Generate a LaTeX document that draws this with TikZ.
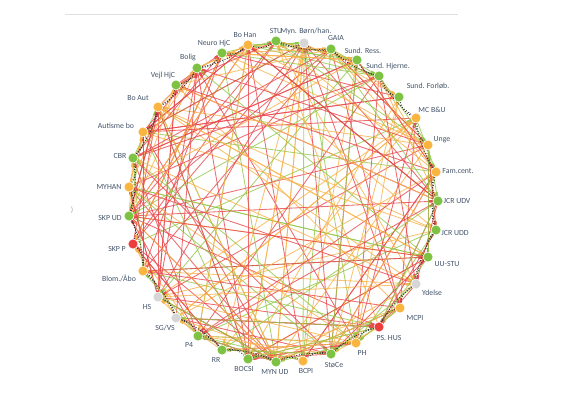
\documentclass[tikz,border=0pt]{standalone}
\usepackage{fontspec}
\setmainfont{Carlito}
\usetikzlibrary{backgrounds,calc}
\definecolor{dg}{HTML}{7DC242}
\definecolor{dor}{HTML}{F9B53F}
\definecolor{dre}{HTML}{EE3D3D}
\definecolor{dgr}{HTML}{D6D6D6}
\definecolor{eg}{HTML}{93C84A}
\definecolor{eor}{HTML}{F8B24A}
\definecolor{ere}{HTML}{E8474C}
\definecolor{labc}{HTML}{44546A}
\tikzset{
  dot/.style={circle,minimum size=10pt,inner sep=0pt,draw=white,line width=0.6pt},
  lab/.style={font=\fontsize{7.8}{8}\selectfont,text=labc,inner sep=0pt},
  chord/.style={line width=0.85pt,opacity=0.8},
  stub/.style={line width=2.4pt,opacity=0.9},
  rim/.style={draw=black!80,line width=0.8pt,dash pattern=on 1pt off 1.6pt},
}
\begin{document}
\begin{tikzpicture}[x=1pt,y=-1pt]
\useasboundingbox (0,0) rectangle (570,395);
\draw[gray!25,line width=1pt] (65,15) -- (458,15);
\node[lab,text=gray!70] (paren) at (72,210) {)};
% nodes
\node[dot,fill=dg]  (n1)  at (276,41) {};  \node[lab] (l1)  at (276,31) {STU};
\node[dot,fill=dgr] (n2)  at (304,43) {};  \node[lab] (l2)  at (306,31) {Myn. Børn/han.};
\node[dot,fill=dg]  (n3)  at (331,49) {};  \node[lab] (l3)  at (336,38) {GAIA};
\node[dot,fill=dg]  (n4)  at (357,60) {};  \node[lab] (l4)  at (363,51) {Sund. Ress.};
\node[dot,fill=dg]  (n5)  at (379,76) {};  \node[lab] (l5)  at (388,66) {Sund. Hjerne.};
\node[dot,fill=dg]  (n6)  at (399,97) {};  \node[lab] (l6)  at (428,86) {Sund. Forløb.};
\node[dot,fill=dor] (n7)  at (416,118) {}; \node[lab] (l7)  at (432,110) {MC B\&U};
\node[dot,fill=dor] (n8)  at (428,145) {}; \node[lab] (l8)  at (442,140) {Unge};
\node[dot,fill=dor] (n9)  at (436,172) {}; \node[lab] (l9)  at (458,171) {Fam.cent.};
\node[dot,fill=dg]  (n10) at (438,201) {}; \node[lab] (l10) at (457,201) {JCR UDV};
\node[dot,fill=dg]  (n11) at (436,230) {}; \node[lab] (l11) at (455,233) {JCR UDD};
\node[dot,fill=dg]  (n12) at (428,257) {}; \node[lab] (l12) at (447,264) {UU-STU};
\node[dot,fill=dgr] (n13) at (416,284) {}; \node[lab] (l13) at (432,293) {Ydelse};
\node[dot,fill=dor] (n14) at (400,308) {}; \node[lab] (l14) at (415,318) {MCPI};
\node[dot,fill=dre] (n15) at (379,327) {}; \node[lab] (l15) at (389,338) {PS. HUS};
\node[dot,fill=dor] (n16) at (356,343) {}; \node[lab] (l16) at (362,353) {PH};
\node[dot,fill=dg]  (n17) at (331,354) {}; \node[lab] (l17) at (334,365) {StøCe};
\node[dot,fill=dor] (n18) at (303,361) {}; \node[lab] (l18) at (306,371) {BCPI};
\node[dot,fill=dg]  (n19) at (276,362) {}; \node[lab] (l19) at (275,372) {MYN UD};
\node[dot,fill=dg]  (n20) at (248,359) {}; \node[lab] (l20) at (244,369) {BOCSI};
\node[dot,fill=dg]  (n21) at (222,350) {}; \node[lab] (l21) at (216,360) {RR};
\node[dot,fill=dg]  (n22) at (198,336) {}; \node[lab] (l22) at (189,345) {P4};
\node[dot,fill=dgr] (n23) at (176,318) {}; \node[lab] (l23) at (165,328) {SG/VS};
\node[dot,fill=dgr] (n24) at (158,297) {}; \node[lab] (l24) at (147,307) {HS};
\node[dot,fill=dor] (n25) at (143,271) {}; \node[lab] (l25) at (119,278) {Blom./Åbo};
\node[dot,fill=dre] (n26) at (133,244) {}; \node[lab] (l26) at (117,249) {SKP P};
\node[dot,fill=dg]  (n27) at (129,216) {}; \node[lab] (l27) at (110,218) {SKP UD};
\node[dot,fill=dor] (n28) at (129,187) {}; \node[lab] (l28) at (109,187) {MYHAN};
\node[dot,fill=dg]  (n29) at (133,158) {}; \node[lab] (l29) at (120,156) {CBR};
\node[dot,fill=dor] (n30) at (143,132) {}; \node[lab] (l30) at (116,126) {Autisme bo};
\node[dot,fill=dor] (n31) at (158,107) {}; \node[lab] (l31) at (138,98) {Bo Aut};
\node[dot,fill=dg]  (n32) at (176,85) {};  \node[lab] (l32) at (163,75) {Vejl HjC};
\node[dot,fill=dg]  (n33) at (197,68) {};  \node[lab] (l33) at (188,57) {Bolig};
\node[dot,fill=dg]  (n34) at (222,53) {};  \node[lab] (l34) at (214,43) {Neuro HjC};
\node[dot,fill=dor] (n35) at (248,45) {};  \node[lab] (l35) at (245,35) {Bo Han};
\begin{pgfonlayer}{background}
\pgfmathsetseed{4711}
% long chords
\foreach \i in {1,...,160}{
  \pgfmathrandominteger{\a}{1}{35}
  \pgfmathrandominteger{\d}{5}{30}
  \pgfmathtruncatemacro{\b}{mod(\a+\d-1,35)+1}
  \pgfmathrandominteger{\c}{1}{20}
  \ifnum\c<10 \def\col{ere}\else\ifnum\c<16 \def\col{eor}\else\def\col{eg}\fi\fi
  \draw[chord,\col] (n\a.center) -- (n\b.center);
  \draw[stub,\col] (n\b.center) -- ($(n\b.center)!10pt!(n\a.center)$);
}
% short chords near the rim
\foreach \i in {1,...,90}{
  \pgfmathrandominteger{\a}{1}{35}
  \pgfmathrandominteger{\d}{2}{5}
  \pgfmathtruncatemacro{\b}{mod(\a+\d-1,35)+1}
  \pgfmathrandominteger{\c}{1}{10}
  \ifnum\c<4 \def\col{ere}\else\ifnum\c<8 \def\col{eor}\else\def\col{eg}\fi\fi
  \draw[chord,\col] (n\a.center) -- (n\b.center);
  \draw[stub,\col] (n\b.center) -- ($(n\b.center)!9pt!(n\a.center)$);
}
\foreach \i in {1,...,34}{
  \pgfmathtruncatemacro{\j}{\i+1}
  \draw[rim] (n\i) to[bend right=25] (n\j);
}
\draw[rim] (n35) to[bend right=25] (n1);
\foreach \i in {1,3,...,33}{
  \pgfmathtruncatemacro{\j}{\i+2}
  \draw[rim] (n\i) to[bend right=12] (n\j);
}
\end{pgfonlayer}
\end{tikzpicture}
\end{document}
